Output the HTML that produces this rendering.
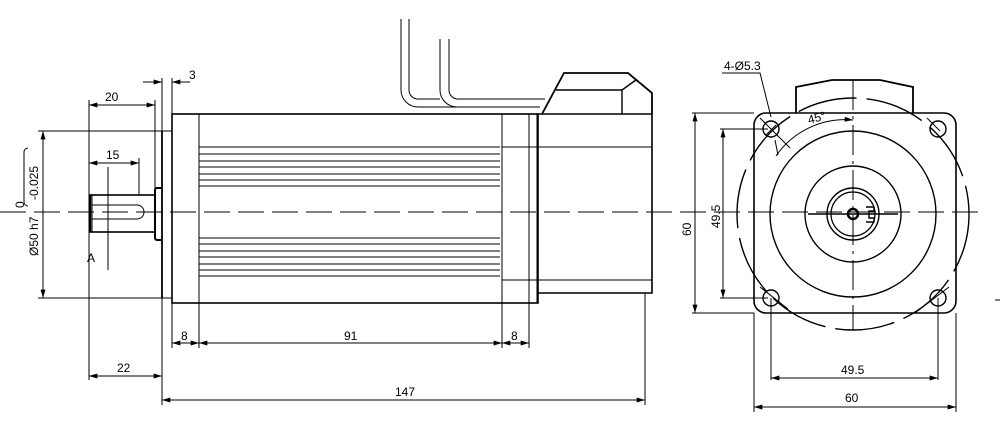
<!DOCTYPE html>
<html><head><meta charset="utf-8"><style>html,body{margin:0;padding:0;background:#fff}svg{display:block}text{font-family:"Liberation Sans",sans-serif;font-size:12px;fill:#000}</style></head><body>
<svg width="1000" height="430" viewBox="0 0 1000 430" xmlns="http://www.w3.org/2000/svg">
<defs>
<marker id="a" viewBox="0 0 10 6" refX="10" refY="3" markerWidth="9" markerHeight="5" orient="auto-start-reverse" markerUnits="userSpaceOnUse"><path d="M0,0L10,3L0,6z" fill="#000"/></marker>
</defs>
<g stroke="#000" fill="none" stroke-width="1">
<line x1="0" y1="212" x2="985" y2="212" stroke-dasharray="26 8"/>
<rect x="90" y="195" width="65" height="37" stroke-width="1.6"/>
<line x1="90" y1="195" x2="90" y2="232" stroke-width="2.5"/>
<line x1="92" y1="195" x2="92" y2="232"/>
<path d="M92,205H137a7,7 0 0 1 0,14H92"/>
<line x1="108" y1="167" x2="108" y2="270"/>
<path d="M162,188H157a2,2 0 0 0 -2,2V238a2,2 0 0 0 2,2H162" stroke-width="2"/>
<line x1="162" y1="131" x2="162" y2="298" stroke-width="1.8"/>
<line x1="162" y1="78" x2="162" y2="405"/>
<line x1="172" y1="78" x2="172" y2="114"/>
<rect x="172" y="114" width="366" height="189" stroke-width="1.6"/>
<line x1="172" y1="303" x2="172" y2="348"/>
<line x1="199" y1="114" x2="199" y2="348"/>
<line x1="502" y1="114" x2="502" y2="348"/>
<line x1="529" y1="114" x2="529" y2="348"/>
<line x1="537" y1="114" x2="537" y2="303"/>
<path d="M199,147H500M199,154H500M199,161H500M199,167H500M199,174H500M199,180H500M199,186H500"/>
<path d="M199,238H500M199,244H500M199,251H500M199,257H500M199,264H500M199,270H500M199,276H500"/>
<line x1="502" y1="147" x2="652" y2="147"/>
<line x1="502" y1="280" x2="652" y2="280"/>
<path d="M537,114H652V293H537" stroke-width="1.6"/>
<line x1="645" y1="293" x2="645" y2="405"/>
<path d="M542,114L564,73H628L652,93V114" stroke-width="1.8"/>
<path d="M556,90H622L636,80M622,90V114" stroke-width="1.4"/>
<path d="M401,19V90a17,17 0 0 0 17,17H540"/>
<path d="M409,19V90a9,9 0 0 0 9,9H440"/>
<path d="M440,39V90a17,17 0 0 0 17,17"/>
<path d="M449,39V90a9,9 0 0 0 9,9H545"/>
<line x1="143" y1="82" x2="162" y2="82" marker-end="url(#a)"/>
<line x1="190" y1="82" x2="172" y2="82" marker-end="url(#a)"/>
<line x1="89" y1="100" x2="89" y2="380"/>
<line x1="155" y1="100" x2="155" y2="188"/>
<line x1="89" y1="105" x2="155" y2="105" marker-start="url(#a)" marker-end="url(#a)"/>
<line x1="139" y1="158" x2="139" y2="195"/>
<line x1="89" y1="163" x2="139" y2="163" marker-start="url(#a)" marker-end="url(#a)"/>
<line x1="38" y1="131" x2="172" y2="131"/>
<line x1="38" y1="298" x2="172" y2="298"/>
<line x1="43" y1="131" x2="43" y2="298" marker-start="url(#a)" marker-end="url(#a)"/>
<line x1="89" y1="376" x2="162" y2="376" marker-start="url(#a)" marker-end="url(#a)"/>
<line x1="162" y1="400" x2="645" y2="400" marker-start="url(#a)" marker-end="url(#a)"/>
<line x1="172" y1="343" x2="199" y2="343" marker-start="url(#a)" marker-end="url(#a)"/>
<line x1="199" y1="343" x2="502" y2="343" marker-start="url(#a)" marker-end="url(#a)"/>
<line x1="502" y1="343" x2="529" y2="343" marker-start="url(#a)" marker-end="url(#a)"/>
<path d="M853,80V330" stroke-dasharray="30 6 3 6"/>
<path d="M796,113V87L832,80H880L913,87V113" stroke-width="1.8"/>
<rect x="754" y="113" width="202" height="200" rx="12" stroke-width="1.6"/>
<circle cx="853" cy="214" r="116" stroke-width="1.4" stroke-dasharray="60 10"/>
<circle cx="853" cy="214" r="83" stroke-width="1.4"/>
<circle cx="853" cy="214" r="48" stroke-width="1.4"/>
<circle cx="853" cy="214" r="26" stroke-width="1.4"/>
<circle cx="853" cy="214" r="22" stroke-width="1.2"/>
<circle cx="853" cy="214" r="5" stroke-width="2.5"/>
<path d="M866,207H874V211H869V218H874V222H866" stroke-width="1.4"/>
<line x1="808" y1="214" x2="898" y2="214" stroke-width="1.6"/>
<circle cx="771" cy="129" r="8" stroke-width="1.4"/>
<circle cx="938" cy="129" r="8" stroke-width="1.4"/>
<circle cx="771" cy="298" r="8" stroke-width="1.4"/>
<circle cx="938" cy="298" r="8" stroke-width="1.4"/>
<path d="M760,118L790,148M927,118L940,131M760,287L788,309M949,287L915,313"/>
<path d="M776,125L766,135M771,298V380M938,298V380"/>
<line x1="754" y1="313" x2="754" y2="412"/>
<line x1="956" y1="313" x2="956" y2="412"/>
<line x1="692" y1="113" x2="754" y2="113"/>
<line x1="692" y1="313" x2="754" y2="313"/>
<line x1="695" y1="113" x2="695" y2="313" marker-start="url(#a)" marker-end="url(#a)"/>
<line x1="720" y1="129" x2="768" y2="129"/>
<line x1="720" y1="298" x2="768" y2="298"/>
<line x1="723" y1="129" x2="723" y2="298" marker-start="url(#a)" marker-end="url(#a)"/>
<line x1="771" y1="378" x2="938" y2="378" marker-start="url(#a)" marker-end="url(#a)"/>
<line x1="754" y1="407" x2="956" y2="407" marker-start="url(#a)" marker-end="url(#a)"/>
<path d="M722,73H760L771,117"/>
<path d="M776,156A84,84 0 0 1 853,120" marker-end="url(#a)"/>
<line x1="775" y1="140" x2="778" y2="155"/>
<line x1="995" y1="300" x2="1000" y2="300"/>
</g>
<text x="189" y="79">3</text>
<text x="105" y="101" font-size="14">20</text>
<text x="106" y="159" font-size="14">15</text>
<text x="87" y="262" font-size="10">A</text>
<text transform="translate(38,256) rotate(-90)" font-size="11">Ø50 h7</text>
<text transform="translate(24,208) rotate(-90)" font-size="10">0</text>
<text transform="translate(38,200) rotate(-90)" font-size="11">-0.025</text>
<path d="M28,148a4,4 0 0 0 -4,4V202a4,4 0 0 0 4,4" stroke="#000" fill="none"/>
<text x="181" y="340" font-size="12">8</text>
<text x="344" y="340" font-size="12">91</text>
<text x="511" y="340" font-size="12">8</text>
<text x="117" y="372" font-size="12">22</text>
<text x="395" y="396" font-size="12">147</text>
<text x="724" y="70" font-size="12">4-Ø5.3</text>
<text transform="translate(809,124) rotate(-15)" font-size="12">45°</text>
<text transform="translate(691,236) rotate(-90)" font-size="12">60</text>
<text transform="translate(720,228) rotate(-90)" font-size="12">49.5</text>
<text x="841" y="374" font-size="12">49.5</text>
<text x="845" y="402" font-size="12">60</text>
</svg>
</body></html>
